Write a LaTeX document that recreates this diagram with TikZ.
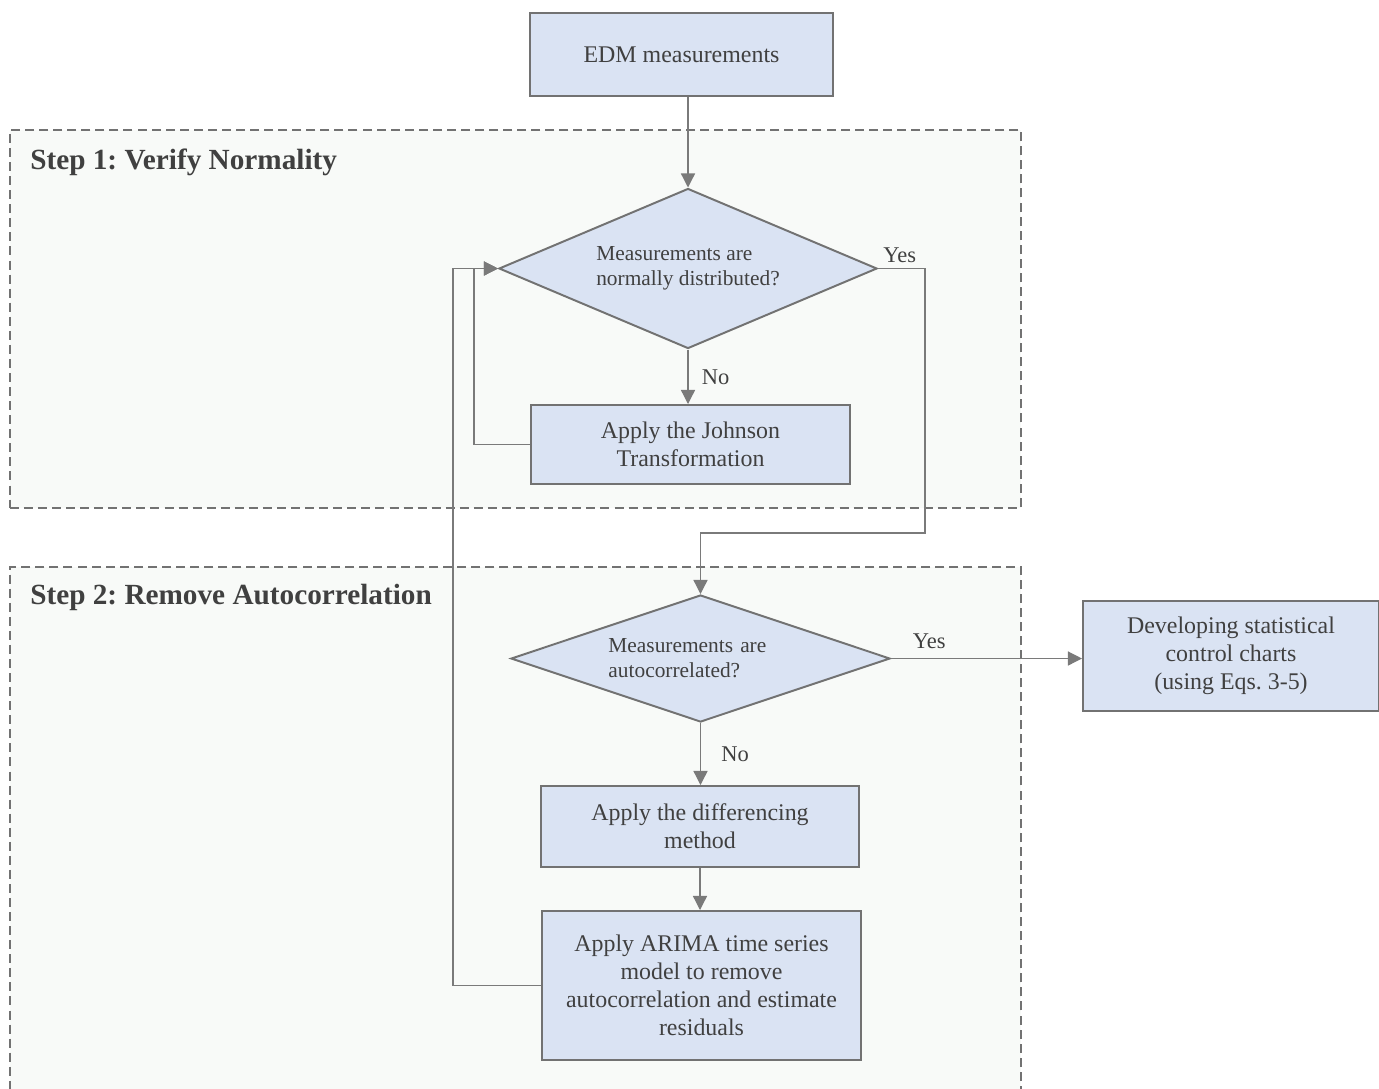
\documentclass[tikz,border=0pt]{standalone}
\usepackage{fontspec}
\setmainfont{Liberation Serif}
\frenchspacing
\usepackage{tikz}
\usetikzlibrary{shapes.geometric, arrows.meta}
\definecolor{boxfill}{HTML}{DAE3F3}
\definecolor{boxline}{HTML}{727272}
\definecolor{wireline}{HTML}{7A7A7A}
\definecolor{textgray}{HTML}{404040}
\definecolor{stepfill}{HTML}{F8FAF8}
\tikzset{
	>={Triangle[length=10pt, width=10pt]},
	process/.style={rectangle, draw=boxline, line width=1.4pt, fill=boxfill, text=textgray, align=center, inner sep=0pt, font=\fontsize{17}{19.8}\selectfont},
	decision/.style={diamond, draw=boxline, line width=1.4pt, fill=boxfill, text=textgray, align=left, inner sep=0pt, font=\fontsize{15.2}{17.6}\selectfont},
	stepbox/.style={rectangle, draw=boxline, line width=1pt, dash pattern=on 6.4pt off 3.6pt, fill=stepfill, inner sep=0pt},
	steplabel/.style={anchor=base west, inner sep=0pt, text=textgray, font=\fontsize{20.8}{24}\selectfont\bfseries},
	wire/.style={draw=wireline, line width=0.9pt},
	answer/.style={text=textgray, font=\fontsize{16}{19}\selectfont},
}
\begin{document}
\begin{tikzpicture}[x=0.025cm, y=-0.025cm]
	
	\useasboundingbox (0,0) rectangle (1379,1088);
	\node[stepbox, minimum width=25.275cm, minimum height=9.45cm] (stepone) at (515.5,319) {};
	\node[stepbox, minimum width=25.275cm, minimum height=13.575cm] (steptwo) at (515.5,838.5) {};
	\node[steplabel] (steponelabel) at (30,169) {Step 1: Verify Normality};
	\node[steplabel] (steptwolabel) at (30,604) {Step 2: Remove Autocorrelation};
	
	\node[process, minimum width=7.575cm, minimum height=2.075cm] (edm) at (681.5,54.5) {EDM measurements};
	\node[decision, aspect=2.36, minimum width=9.45cm, minimum height=4cm] (normal) at (688,268.5) {Measurements are\\normally distributed?};
	\node[process, minimum width=7.975cm, minimum height=1.975cm] (johnson) at (690.5,444.5) {Apply the Johnson\\Transformation};
	\node[decision, aspect=2.98, text width=4.6cm, minimum width=9.475cm, minimum height=3.175cm] (autocorr) at (700.5,658.5) {Measurements are\\autocorrelated?};
	\node[process, minimum width=7.4cm, minimum height=2.75cm] (charts) at (1231,656) {Developing statistical\\control charts\\(using Eqs. 3-5)};
	\node[process, minimum width=7.95cm, minimum height=2.025cm] (differencing) at (700,826.5) {Apply the differencing\\method};
	\node[process, minimum width=7.975cm, minimum height=3.725cm] (arima) at (701.5,985.5) {Apply ARIMA time series\\model to remove\\autocorrelation and estimate\\residuals};
	\coordinate (yesbend) at (925,533);
	
	\draw[wire, ->] (normal.north |- edm.south) -- (normal.north);
	\draw[wire, ->] (normal.east) -| node[answer, pos=0, above right] (yesnormal) {Yes} (yesbend) -| (autocorr.north);
	\draw[wire, ->] (normal.south) -- node[answer, right=6pt] (nonormal) {No} (normal.south |- johnson.north);
	\draw[wire, ->] (johnson.west) -- ++(-56,0) |- (normal.west);
	\draw[wire, ->] (arima.west) -- ++(-88,0) |- (normal.west);
	\draw[wire, ->] (autocorr.east) -- node[answer, above=3pt, pos=0.2] (yesauto) {Yes} (autocorr.east -| charts.west);
	\draw[wire, ->] (autocorr.south) -- node[answer, right=11pt] (noauto) {No} (autocorr.south |- differencing.north);
	\draw[wire, ->] (differencing.south) -- (differencing.south |- arima.north);
	
\end{tikzpicture}
\end{document}
